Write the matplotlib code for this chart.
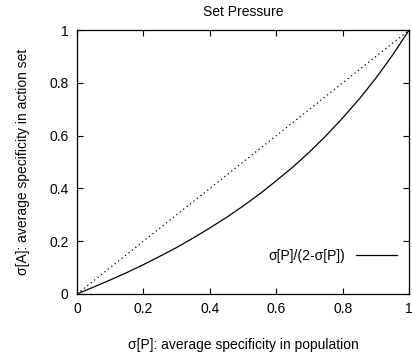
import matplotlib
matplotlib.use("Agg")
import matplotlib.pyplot as plt

plt.rcParams['font.family'] = ['Liberation Sans', 'DejaVu Sans']

# values
sp = [0.0, 0.05, 0.1, 0.15, 0.2, 0.25, 0.3, 0.35, 0.4, 0.45, 0.5,
      0.55, 0.6, 0.65, 0.7, 0.75, 0.8, 0.85, 0.9, 0.95, 1.0]
sa = [0.0, 0.026, 0.053, 0.081, 0.111, 0.143, 0.176, 0.212, 0.25, 0.29, 0.333,
      0.379, 0.429, 0.481, 0.538, 0.6, 0.667, 0.739, 0.818, 0.905, 1.0]
diag = [0.0, 1.0]
ticks = [0, 0.2, 0.4, 0.6, 0.8, 1]
ticklabels = ['0', '0.2', '0.4', '0.6', '0.8', '1']

fig = plt.figure(figsize=(4.12, 3.58), dpi=100)
ax = fig.add_axes([0.187, 0.179, 0.806, 0.737])

ax.plot(sp, sa, color='black', lw=0.9, label='σ[P]/(2-σ[P])')
ax.plot(diag, diag, color='black', lw=0.9, ls=(0, (1, 2.5)))

ax.set_xlim(0, 1)
ax.set_ylim(0, 1)
ax.set_xticks(ticks)
ax.set_xticklabels(ticklabels)
ax.set_yticks(ticks)
ax.set_yticklabels(ticklabels)
ax.tick_params(direction='in', top=True, right=True, length=4, width=0.8,
               labelsize=10, pad=6)
for s in ax.spines.values():
    s.set_linewidth(0.9)

ax.set_title('Set Pressure', fontsize=10, pad=10)
ax.set_xlabel('σ[P]: average specificity in population', fontsize=10, labelpad=16)
ax.set_ylabel('σ[A]: average specificity in action set', fontsize=10, labelpad=14)

leg = ax.legend(loc='lower right', bbox_to_anchor=(1.0, 0.07), frameon=False,
                fontsize=10, markerfirst=False, handlelength=2.9, handletextpad=0.8)

fig.savefig('out.png', dpi=100)
